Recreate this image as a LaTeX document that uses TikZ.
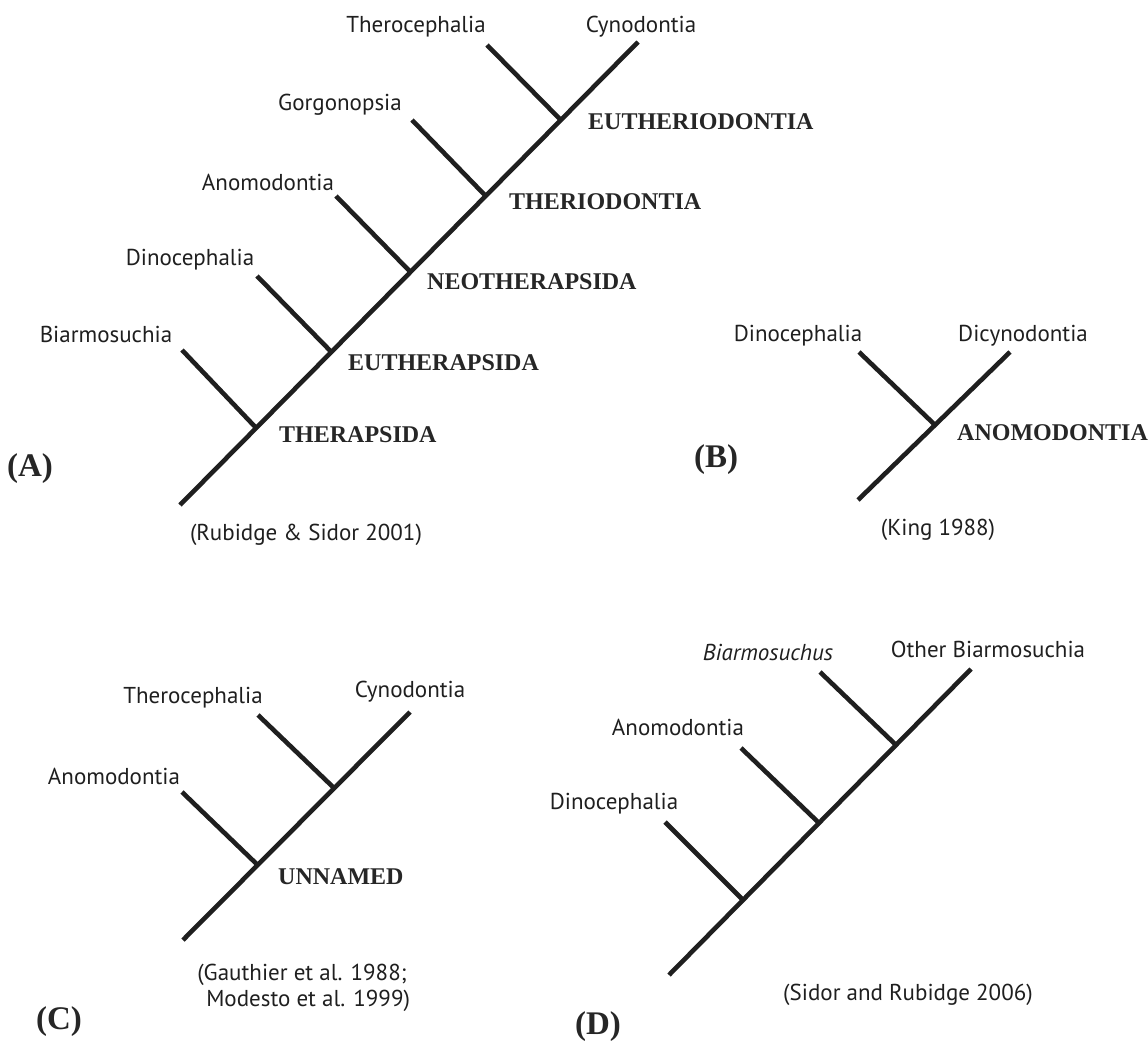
\documentclass[tikz,border=0pt]{standalone}
\usepackage{fontspec}
\setmainfont{PT Sans}
\newfontfamily\cladefont{Liberation Serif}
\begin{document}
\begin{tikzpicture}[x=1pt,y=-1pt,
  branch/.style={line width=4.6pt, color=black!88},
  taxon/.style={inner sep=0pt, anchor=base, font=\fontsize{23}{27}\selectfont, text=black!88},
  clade/.style={inner sep=0pt, anchor=west, font=\cladefont\bfseries\fontsize{24}{28}\selectfont, text=black!85},
  panel/.style={inner sep=0pt, font=\cladefont\bfseries\fontsize{33}{37}\selectfont, text=black!85},
  cite/.style={inner sep=0pt, font=\fontsize{23}{26}\selectfont, text=black!88, align=center}]
\useasboundingbox (0,0) rectangle (1148,1043);

% ---------- Panel A ----------
\coordinate (a0) at (180,505);
\coordinate (aTop) at (638,42);
\coordinate (a1) at (256.2,428);
\coordinate (a2) at (331.4,352);
\coordinate (a3) at (410.5,272);
\coordinate (a4) at (485.7,196);
\coordinate (a5) at (560.8,120);
\coordinate (aBiar) at (182,350);
\coordinate (aDino) at (257,276);
\coordinate (aAnom) at (336,196);
\coordinate (aGorg) at (412,120);
\coordinate (aTher) at (487,45);
\draw[branch] (a0) -- (aTop);
\draw[branch] (a1) -- (aBiar);
\draw[branch] (a2) -- (aDino);
\draw[branch] (a3) -- (aAnom);
\draw[branch] (a4) -- (aGorg);
\draw[branch] (a5) -- (aTher);
\node[taxon] (tAther) at (416,33) {Therocephalia};
\node[taxon] (tAcyn) at (641,33) {Cynodontia};
\node[taxon] (tAgorg) at (340,111) {Gorgonopsia};
\node[taxon] (tAanom) at (268,191) {Anomodontia};
\node[taxon] (tAdino) at (190,265) {Dinocephalia};
\node[taxon] (tAbiar) at (106,342) {Biarmosuchia};
\node[clade] (cA1) at (279,435) {THERAPSIDA};
\node[clade] (cA2) at (348,363) {EUTHERAPSIDA};
\node[clade] (cA3) at (427,282) {NEOTHERAPSIDA};
\node[clade] (cA4) at (509,202) {THERIODONTIA};
\node[clade] (cA5) at (588,122) {EUTHERIODONTIA};
\node[panel] (pA) at (30,469) {(A)};
\node[cite] (citeA) at (306,535) {(Rubidge \& Sidor 2001)};

% ---------- Panel B ----------
\coordinate (b0) at (858,500);
\coordinate (bTop) at (1010,352);
\coordinate (b1) at (935,425);
\coordinate (bDino) at (859,352);
\draw[branch] (b0) -- (bTop);
\draw[branch] (b1) -- (bDino);
\node[taxon] (tBdino) at (798,341) {Dinocephalia};
\node[taxon] (tBdicy) at (1023,341) {Dicynodontia};
\node[clade] (cB) at (957,433) {ANOMODONTIA};
\node[panel] (pB) at (716,460) {(B)};
\node[cite] (citeB) at (938,530) {(King 1988)};

% ---------- Panel C ----------
\coordinate (c0) at (183,940);
\coordinate (cTop) at (410,712);
\coordinate (c1) at (257.7,865);
\coordinate (c2) at (334,788);
\coordinate (cAnom) at (182,792);
\coordinate (cTher) at (258,715);
\draw[branch] (c0) -- (cTop);
\draw[branch] (c1) -- (cAnom);
\draw[branch] (c2) -- (cTher);
\node[taxon] (tCther) at (193,703) {Therocephalia};
\node[taxon] (tCcyn) at (410,697) {Cynodontia};
\node[taxon] (tCanom) at (114,784) {Anomodontia};
\node[clade] (cC) at (278,877) {UNNAMED};
\node[cite] (citeC) at (302,988) {(Gauthier et al. 1988;\\\ \ Modesto et al. 1999)};
\node[panel] (pC) at (59,1022) {(C)};

% ---------- Panel D ----------
\coordinate (d0) at (669,975);
\coordinate (dTop) at (971,669);
\coordinate (d1) at (743,900);
\coordinate (d2) at (819,823);
\coordinate (d3) at (896,745);
\coordinate (dDino) at (665,822);
\coordinate (dAnom) at (741,748);
\coordinate (dBiar) at (820,672);
\draw[branch] (d0) -- (dTop);
\draw[branch] (d1) -- (dDino);
\draw[branch] (d2) -- (dAnom);
\draw[branch] (d3) -- (dBiar);
\node[taxon] (tDbiar) at (768,660) {\itshape Biarmosuchus};
\node[taxon] (tDother) at (988,657) {Other Biarmosuchia};
\node[taxon] (tDanom) at (678,735) {Anomodontia};
\node[taxon] (tDdino) at (614,809) {Dinocephalia};
\node[cite] (citeD) at (908,995) {(Sidor and Rubidge 2006)};
\node[panel] (pD) at (598,1027) {(D)};
\end{tikzpicture}
\end{document}
